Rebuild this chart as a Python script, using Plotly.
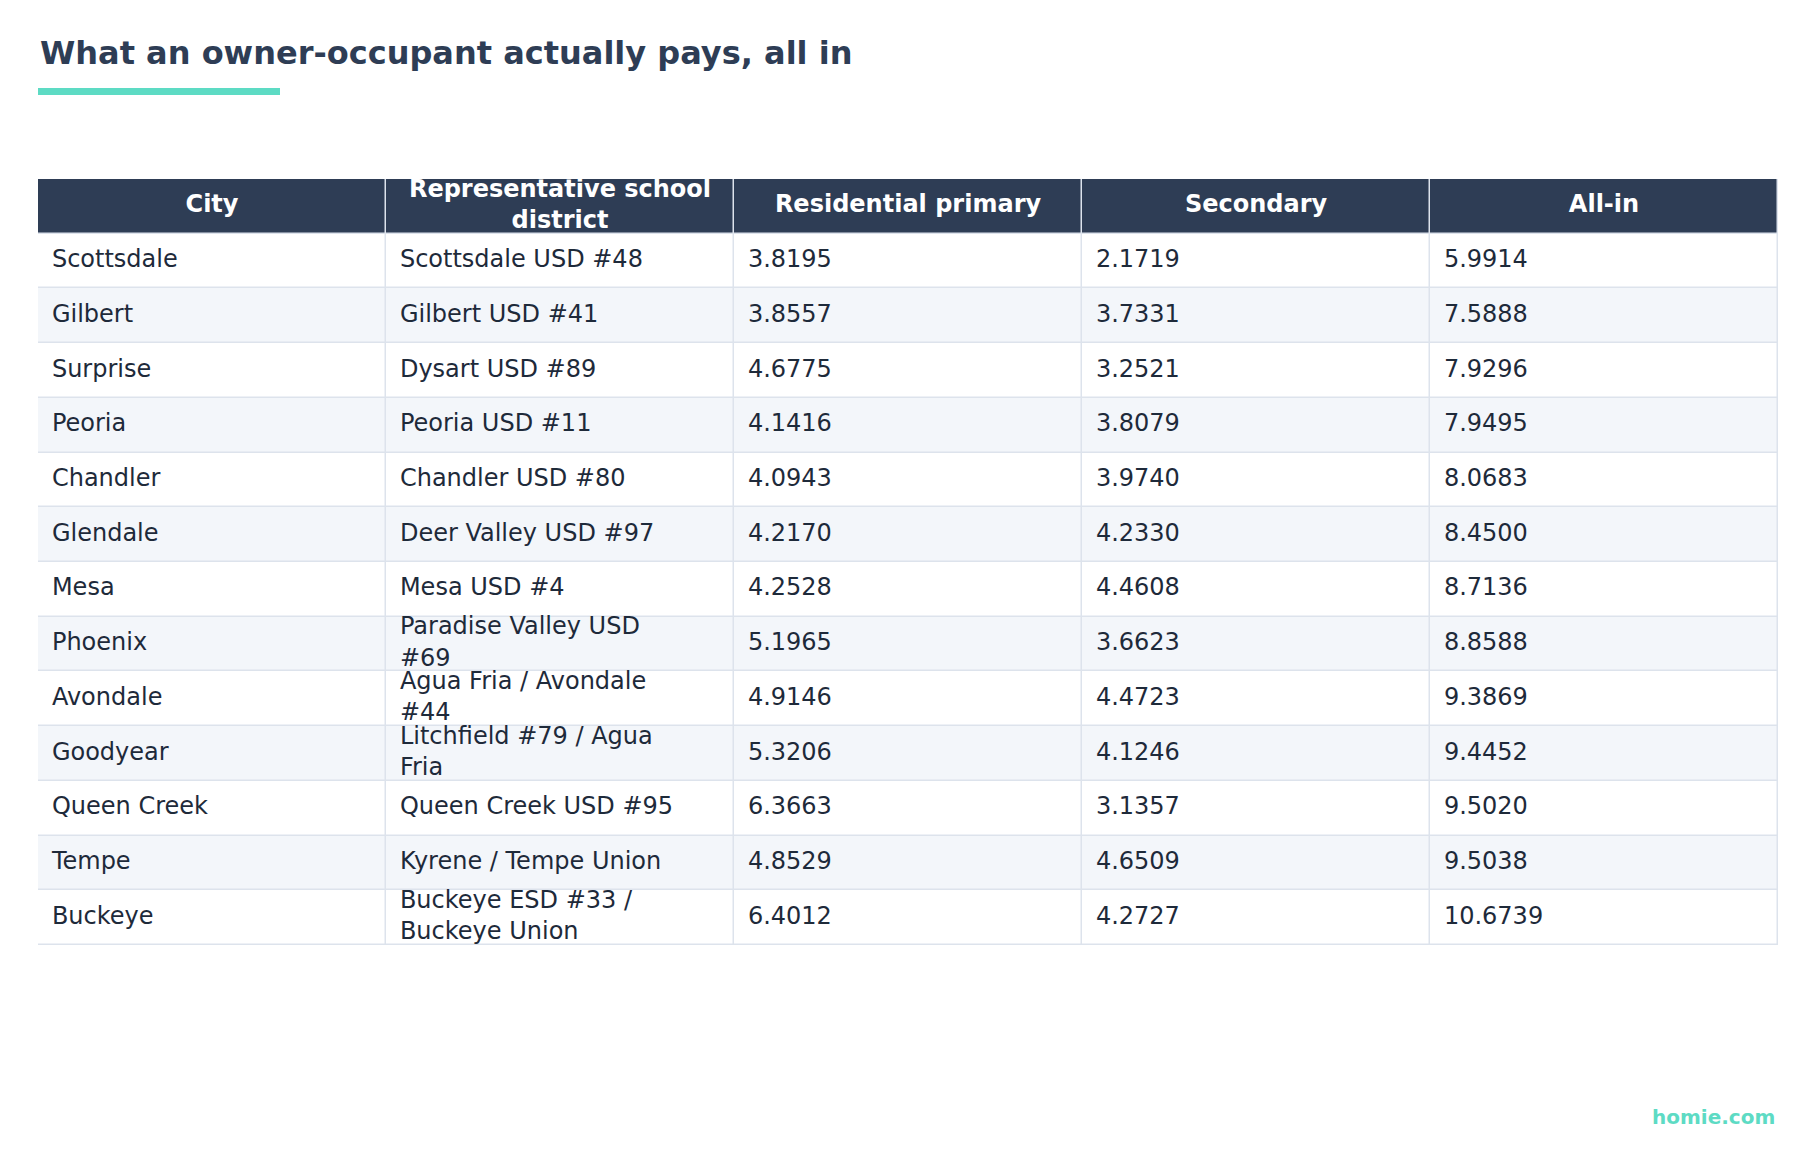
import plotly.graph_objects as go

headers = ["City", "Representative school<br>district", "Residential primary", "Secondary", "All-in"]
cities = ["Scottsdale", "Gilbert", "Surprise", "Peoria", "Chandler", "Glendale", "Mesa", "Phoenix",
          "Avondale", "Goodyear", "Queen Creek", "Tempe", "Buckeye"]
districts = ["Scottsdale USD #48", "Gilbert USD #41", "Dysart USD #89", "Peoria USD #11", "Chandler USD #80",
             "Deer Valley USD #97", "Mesa USD #4", "Paradise Valley USD<br>#69", "Agua Fria / Avondale<br>#44",
             "Litchfield #79 / Agua<br>Fria", "Queen Creek USD #95", "Kyrene / Tempe Union",
             "Buckeye ESD #33 /<br>Buckeye Union"]
primary = ["3.8195", "3.8557", "4.6775", "4.1416", "4.0943", "4.2170", "4.2528", "5.1965", "4.9146",
           "5.3206", "6.3663", "4.8529", "6.4012"]
secondary = ["2.1719", "3.7331", "3.2521", "3.8079", "3.9740", "4.2330", "4.4608", "3.6623", "4.4723",
             "4.1246", "3.1357", "4.6509", "4.2727"]
allin = ["5.9914", "7.5888", "7.9296", "7.9495", "8.0683", "8.4500", "8.7136", "8.8588", "9.3869",
         "9.4452", "9.5020", "9.5038", "10.6739"]

W, H = 1800, 1149
columns = [cities, districts, primary, secondary, allin]
ncol, nrow = len(headers), len(cities)

# background grid: header=2, alternating rows 0/1
z = [[2] * ncol] + [[i % 2] * ncol for i in range(nrow)]

fig = go.Figure()
fig.add_trace(go.Heatmap(
    z=z, x=list(range(ncol)), y=list(range(nrow + 1)), xgap=1.5, ygap=1.5,
    zmin=0, zmax=2, showscale=False, hoverinfo="skip",
    colorscale=[[0, "#ffffff"], [0.33, "#ffffff"], [0.34, "#f3f6fa"], [0.66, "#f3f6fa"],
                [0.67, "#2e3d55"], [1, "#2e3d55"]],
))
fig.add_trace(go.Scatter(
    x=list(range(ncol)), y=[0] * ncol, mode="text",
    text=[f"<b>{h}</b>" for h in headers], textposition="middle center",
    textfont=dict(family="DejaVu Sans", size=24, color="#ffffff"), hoverinfo="skip",
))
for c, col in enumerate(columns):
    fig.add_trace(go.Scatter(
        x=[c - 0.46] * nrow, y=list(range(1, nrow + 1)), mode="text",
        text=col, textposition="middle right",
        textfont=dict(family="DejaVu Sans", size=24, color="#1e2a3a"), hoverinfo="skip",
    ))

fig.update_layout(
    width=W, height=H, margin=dict(l=0, r=0, t=0, b=0), showlegend=False,
    paper_bgcolor="#ffffff", plot_bgcolor="#dde3ec",
    xaxis=dict(domain=[30/W, 1770/W], range=[-0.5, ncol - 0.5], visible=False, fixedrange=True),
    yaxis=dict(domain=[1 - 937/H, 1 - 171/H], range=[nrow + 0.5, -0.5], visible=False, fixedrange=True),
    annotations=[
        dict(text="<b>What an owner-occupant actually pays, all in</b>", x=30/W, y=1 - 45/H,
             xref="paper", yref="paper", xanchor="left", yanchor="middle", showarrow=False,
             font=dict(family="DejaVu Sans", size=32, color="#2e3d55")),
        dict(text="<b>homie.com</b>", x=1769/W, y=1 - 1109/H, xref="paper", yref="paper",
             xanchor="right", yanchor="middle", showarrow=False,
             font=dict(family="DejaVu Sans", size=20, color="#5ddbc4")),
    ],
    shapes=[dict(type="rect", xref="paper", yref="paper", x0=30/W, x1=272/W,
                 y0=1 - 87/H, y1=1 - 80/H, fillcolor="#5ddbc4", line_width=0)],
)

fig.write_html("out.html")
